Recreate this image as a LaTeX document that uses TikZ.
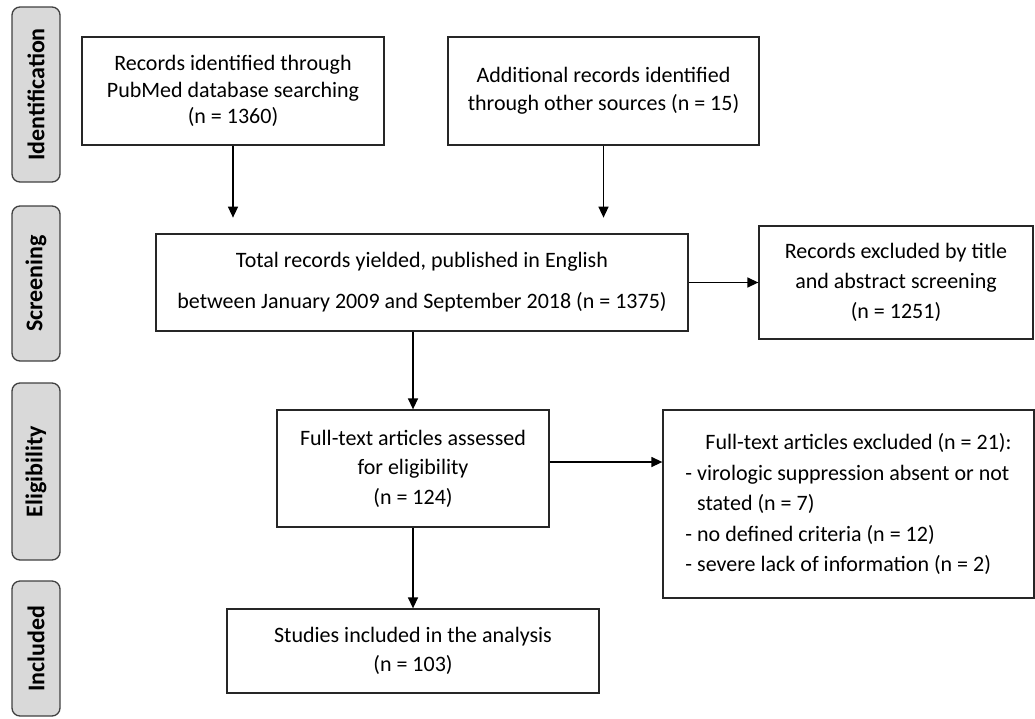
\documentclass[tikz,border=0pt]{standalone}
\usepackage{fontspec}
\setmainfont{Carlito}
\usetikzlibrary{arrows.meta}
\begin{document}
\begin{tikzpicture}[x=1pt,y=-1pt,
  box/.style={draw=black!85,line width=1.3pt,align=center,inner sep=0pt,font=\fontsize{22}{28}\selectfont},
  phase/.style={draw=black!75,line width=1.3pt,fill=black!15,rounded corners=8pt,rotate=90,inner sep=0pt,minimum height=48pt,font=\fontsize{24}{28}\selectfont\bfseries},
  arr/.style={draw=black,line width=1.4pt,-{Triangle[length=11pt,width=10pt]}}]
\useasboundingbox (0,0) rectangle (1035,718);

% phase labels
\node[phase,minimum width=175pt] (pid) at (36,94.5) {Identification};
\node[phase,minimum width=155pt] (psc) at (36,283.5) {Screening};
\node[phase,minimum width=177pt] (pel) at (36,471.5) {Eligibility};
\node[phase,minimum width=135pt] (pin) at (36,648.5) {Included};

% boxes
\node[box,minimum width=302pt,minimum height=108pt,font=\fontsize{22}{26.5}\selectfont] (rec) at (233,91)
  {Records identified through\\PubMed database searching\\(n = 1360)};
\node[box,minimum width=311pt,minimum height=108pt] (add) at (603.5,91)
  {Additional records identified\\through other sources (n = 15)};
\node[box,minimum width=532pt,minimum height=97pt,font=\fontsize{22}{41}\selectfont] (scr) at (422,282.5)
  {Total records yielded, published in English\\between January 2009 and September 2018 (n = 1375)};
\node[box,minimum width=274pt,minimum height=113pt,font=\fontsize{22}{30}\selectfont] (rex) at (896,282.5)
  {Records excluded by title\\and abstract screening\\(n = 1251)};
\node[box,minimum width=272pt,minimum height=117pt,font=\fontsize{22}{29.5}\selectfont] (eli) at (413,468.5)
  {Full-text articles assessed\\for eligibility\\(n = 124)};
\node[box,minimum width=371pt,minimum height=188pt,align=left,font=\fontsize{22}{30.5}\selectfont] (ftx) at (848.5,504)
  {\hspace*{20pt}Full-text articles excluded (n = 21):\\- virologic suppression absent or not\hspace*{14pt}\\\hphantom{- }stated (n = 7)\\- no defined criteria (n = 12)\\- severe lack of information (n = 2)};
\node[box,minimum width=372pt,minimum height=84pt,font=\fontsize{22}{29}\selectfont] (inc) at (413,651)
  {Studies included in the analysis\\(n = 103)};

% connectors
\path (rec.south) ++(0,72) coordinate (t1);
\path (add.south) ++(0,72) coordinate (t2);
\draw[arr] (rec.south) -- (t1);
\draw[arr] (add.south) -- (t2);
\draw[arr] (scr.east) -- (scr.east -| rex.west);
\draw[arr] (eli.north |- scr.south) -- (eli.north);
\draw[arr] ([yshift=6.5pt]eli.east) -- ([yshift=6.5pt]eli.east -| ftx.west);
\draw[arr] (eli.south) -- (inc.north);
\end{tikzpicture}
\end{document}
